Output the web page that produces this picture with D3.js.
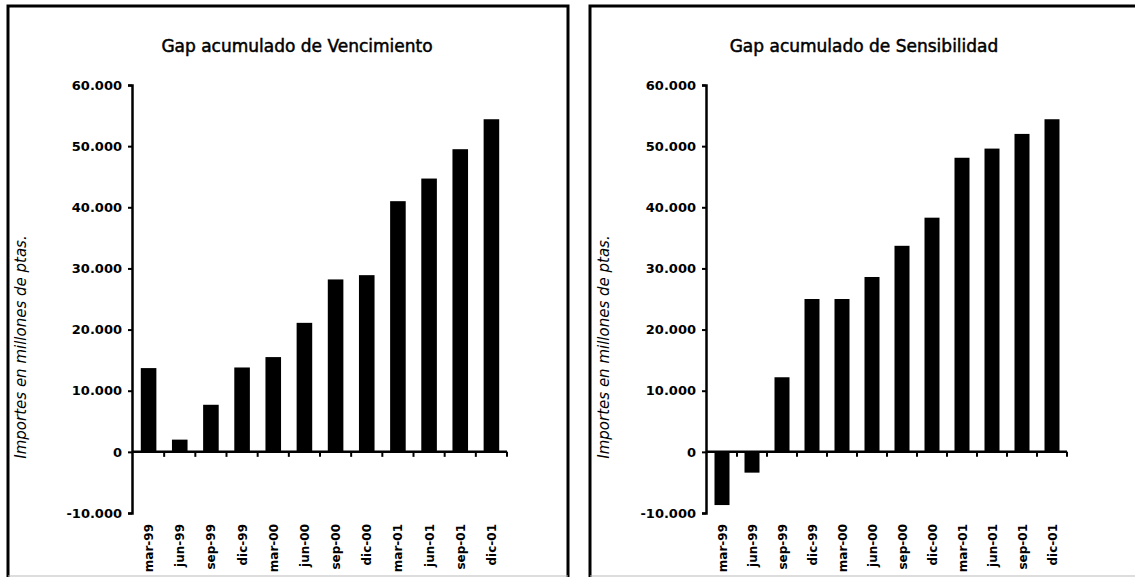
<!DOCTYPE html>
<html>
<head>
<meta charset="utf-8">
<script src="https://cdn.jsdelivr.net/npm/d3@7"></script>
<style>
  body { margin: 0; background: #fff; }
  svg { display: block; }
  .title { font-family: "DejaVu Sans", sans-serif; font-size: 17px; stroke: #000; stroke-width: 0.5px; }
  .tick text { font-family: "DejaVu Sans", sans-serif; font-weight: bold; font-size: 13px; fill: #000; }
  .xlabels .tick text { font-size: 12px; }
  .ylab { font-family: "DejaVu Sans", sans-serif; font-style: italic; font-size: 15px; }
</style>
</head>
<body>
<div id="chart"></div>
<script>
// periods (shared by both panels)
var periods = ["mar-99", "jun-99", "sep-99", "dic-99", "mar-00", "jun-00",
               "sep-00", "dic-00", "mar-01", "jun-01", "sep-01", "dic-01"];

// cumulative gap, millions of pesetas
var gapVencimiento = [13700, 2000, 7700, 13800, 15500, 21100,
                      28200, 28900, 41000, 44700, 49500, 54400];
var gapSensibilidad = [-8700, -3400, 12200, 25000, 25000, 28600,
                       33700, 38300, 48100, 49600, 52000, 54400];

var yTicks = [-10000, 0, 10000, 20000, 30000, 40000, 50000, 60000];

var titles = ["Gap acumulado de Vencimiento", "Gap acumulado de Sensibilidad"];
var yLabel = "Importes en millones de ptas.";

var W = 1135, H = 577;

var svg = d3.select("#chart").append("svg")
    .attr("width", W)
    .attr("height", H);

// spanish number format: 10.000, plain hyphen for negatives
var es = d3.formatLocale({ decimal: ",", thousands: ".", grouping: [3], currency: ["", " Pts"], minus: "-" });
var fmt = es.format(",d");

var y = d3.scaleLinear()
    .domain([-10000, 60000])
    .range([513, 85]);

var panels = [
    { frame: [8, 568], axisX: 132, xRange: [133, 507], titleX: 297, labX: 21, values: gapVencimiento },
    { frame: [590, 1142], axisX: 706, xRange: [707, 1067], titleX: 864, labX: 604, values: gapSensibilidad }
];

panels.forEach(function(p, k) {
    var g = svg.append("g");

    // panel border (bottom is cut by the scan)
    g.append("path")
        .attr("d", "M" + p.frame[0] + ",577 V6 H" + p.frame[1] + " V577")
        .attr("fill", "none")
        .attr("stroke", "#000")
        .attr("stroke-width", 3);
    g.append("line")
        .attr("x1", p.frame[0]).attr("x2", p.frame[1])
        .attr("y1", 576).attr("y2", 576)
        .attr("stroke", "#bbb")
        .attr("stroke-width", 1);

    g.append("text")
        .attr("class", "title")
        .attr("x", p.titleX)
        .attr("y", 52)
        .attr("text-anchor", "middle")
        .text(titles[k]);

    g.append("text")
        .attr("class", "ylab")
        .attr("transform", "translate(" + (p.labX + 5) + ",347) rotate(-90)")
        .attr("text-anchor", "middle")
        .text(yLabel);

    var x = d3.scaleBand()
        .domain(periods)
        .range(p.xRange)
        .paddingInner(0.5)
        .paddingOuter(0.25);

    // bars
    g.selectAll(".bar")
        .data(p.values)
        .enter().append("rect")
        .attr("class", "bar")
        .attr("x", function(d, i) { return x(periods[i]); })
        .attr("width", x.bandwidth())
        .attr("y", function(d) { return y(Math.max(0, d)); })
        .attr("height", function(d) { return Math.abs(y(d) - y(0)); })
        .attr("fill", "#000");

    // y axis
    var yAxis = g.append("g")
        .attr("transform", "translate(" + p.axisX + ",0)")
        .call(d3.axisLeft(y).tickValues(yTicks).tickFormat(fmt).tickSize(4).tickPadding(6));
    yAxis.select(".domain").attr("stroke-width", 2.5);
    yAxis.selectAll(".tick line").attr("stroke-width", 2);

    // x axis line at zero with ticks between bars
    var step = x.step();
    var bounds = periods.map(function(c) { return x(c) - x.bandwidth() / 2 + step; });
    g.append("line")
        .attr("x1", p.axisX).attr("x2", p.xRange[1])
        .attr("y1", y(0)).attr("y2", y(0))
        .attr("stroke", "#000")
        .attr("stroke-width", 2.5);
    g.selectAll(".xt")
        .data(bounds)
        .enter().append("line")
        .attr("x1", function(d) { return d; })
        .attr("x2", function(d) { return d; })
        .attr("y1", y(0)).attr("y2", y(0) + 5)
        .attr("stroke", "#000")
        .attr("stroke-width", 2);

    // category labels below the plot
    var xl = g.append("g").attr("class", "xlabels");
    xl.selectAll(".tick")
        .data(periods)
        .enter().append("g")
        .attr("class", "tick")
        .attr("transform", function(d) { return "translate(" + (x(d) + x.bandwidth() / 2 + 4.5) + ",524) rotate(-90)"; })
        .append("text")
        .attr("text-anchor", "end")
        .text(function(d) { return d; });
});
</script>
</body>
</html>
